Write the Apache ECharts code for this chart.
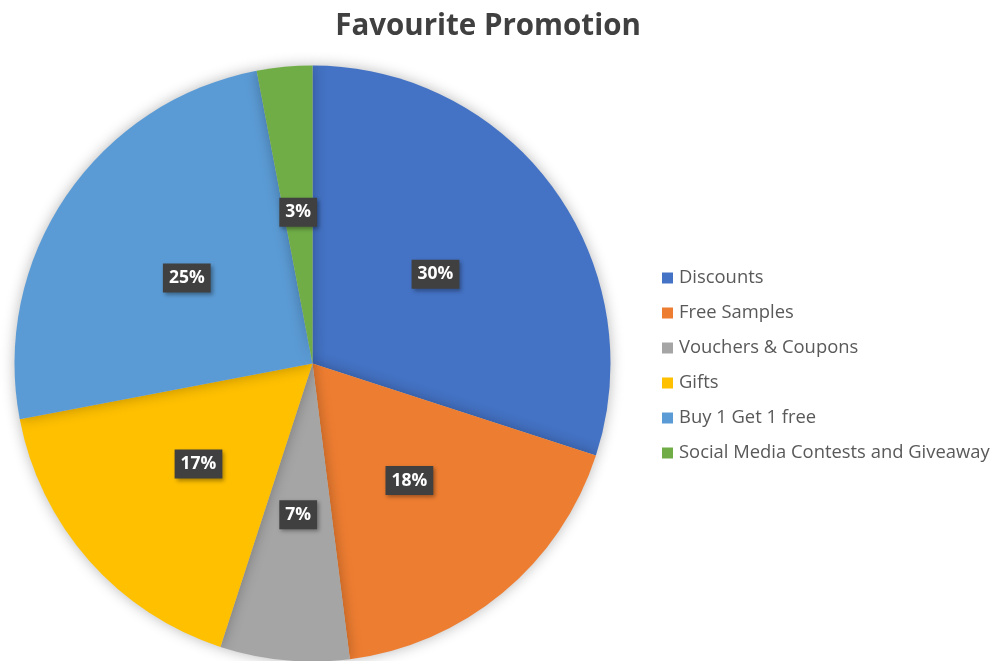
<!DOCTYPE html>
<html>
<head>
<meta charset="utf-8">
<script src="https://cdn.jsdelivr.net/npm/echarts@6/dist/echarts.min.js"></script>
<style>
  html, body { margin: 0; padding: 0; background: #fff; }
  #chart { width: 995px; height: 661px; }
</style>
</head>
<body>
<div id="chart"></div>
<script>
// Share of respondents per preferred promotion type (percent)
const categories = [
  'Discounts',
  'Free Samples',
  'Vouchers & Coupons',
  'Gifts',
  'Buy 1 Get 1 free',
  'Social Media Contests and Giveaway'
];
const shares = [30, 18, 7, 17, 25, 3];
const palette = ['#4472C4', '#ED7D31', '#A5A5A5', '#FFC000', '#5B9BD5', '#70AD47'];

const FONT = '"Open Sans", "Noto Sans", sans-serif';

const chart = echarts.init(document.getElementById('chart'), null, { renderer: 'canvas' });
chart.setOption({
  backgroundColor: '#ffffff',
  animation: false,
  color: palette,
  title: {
    text: 'Favourite Promotion',
    left: 483,
    textAlign: 'center',
    top: 7,
    textStyle: { fontFamily: FONT, fontSize: 29.5, fontWeight: 'bold', color: '#404040' }
  },
  legend: {
    orient: 'vertical',
    left: 662,
    top: 268,
    padding: 0,
    itemWidth: 11,
    itemHeight: 11,
    itemGap: 15,
    icon: 'rect',
    textStyle: { fontFamily: FONT, fontSize: 18.4, color: '#595959', lineHeight: 20, padding: [0, 0, 0, 1] },
    data: categories
  },
  series: [{
    type: 'pie',
    center: [312.5, 363.5],
    radius: [0, 298],
    startAngle: 90,
    clockwise: true,
    silent: true,
    itemStyle: {
      borderWidth: 0,
      shadowBlur: 14,
      shadowColor: 'rgba(0,0,0,0.28)'
    },
    label: {
      show: true,
      position: 'inside',
      formatter: p => p.value + '%',
      fontFamily: FONT,
      fontSize: 17.5,
      fontWeight: 'bold',
      color: '#ffffff',
      backgroundColor: '#404040',
      padding: [6, 6, 5, 6],
      shadowBlur: 4,
      shadowOffsetX: 2,
      shadowOffsetY: 2,
      shadowColor: 'rgba(0,0,0,0.35)'
    },
    labelLine: { show: false },
    data: categories.map((name, i) => ({ name, value: shares[i] }))
  }]
});
</script>
</body>
</html>
